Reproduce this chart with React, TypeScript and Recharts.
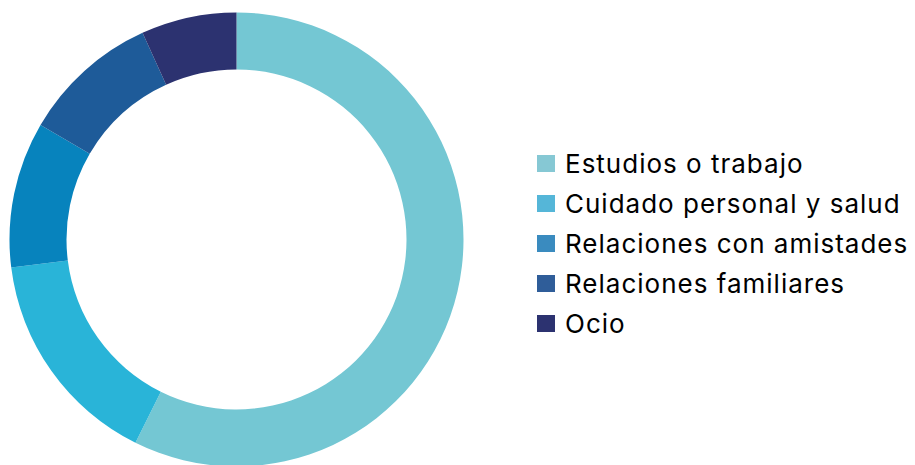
import { PieChart, Pie, Cell, Legend } from "recharts";

const categories = [
  "Estudios o trabajo",
  "Cuidado personal y salud",
  "Relaciones con amistades",
  "Relaciones familiares",
  "Ocio",
];
const values = [57.4, 15.7, 10.4, 9.8, 6.8];
const sliceColors = ["#74c7d3", "#29b4d8", "#0783bd", "#1e5b99", "#2c3270"];
const legendColors = ["#86c8d4", "#55b6d8", "#3a8bbf", "#2f5d99", "#2c3270"];

const data = categories.map((name, i) => ({ name, value: values[i] }));

function renderLegend() {
  return (
    <div style={legendListStyle}>
      {categories.map((name, i) => (
        <div key={name} style={legendRowStyle}>
          <span style={{ ...legendSwatchStyle, background: legendColors[i] }} />
          <span>{name}</span>
        </div>
      ))}
    </div>
  );
}

export default function App() {
  return (
    <div style={wrapStyle}>
      <PieChart width={915} height={465} margin={{ top: 0, right: 0, bottom: 0, left: 0 }}>
        <Pie
          data={data}
          dataKey="value"
          nameKey="name"
          cx={236.5}
          cy={239.5}
          innerRadius={170}
          outerRadius={227}
          startAngle={90}
          endAngle={-270}
          stroke="none"
          isAnimationActive={false}
        >
          {data.map((d, i) => (
            <Cell key={d.name} fill={sliceColors[i]} />
          ))}
        </Pie>
        <Legend
          content={renderLegend}
          wrapperStyle={{ left: 537, top: 143, width: 378 }}
        />
      </PieChart>
    </div>
  );
}

const wrapStyle: React.CSSProperties = {
  position: "absolute",
  left: 0,
  top: 0,
  background: "#fff",
};

const legendListStyle: React.CSSProperties = {
  fontFamily: "Inter, sans-serif",
  fontSize: 26,
  letterSpacing: 1,
  color: "#000",
  whiteSpace: "nowrap",
};

const legendRowStyle: React.CSSProperties = {
  display: "flex",
  alignItems: "center",
  height: 40,
};

const legendSwatchStyle: React.CSSProperties = {
  display: "inline-block",
  width: 18,
  height: 17,
  marginRight: 10,
  flexShrink: 0,
};
